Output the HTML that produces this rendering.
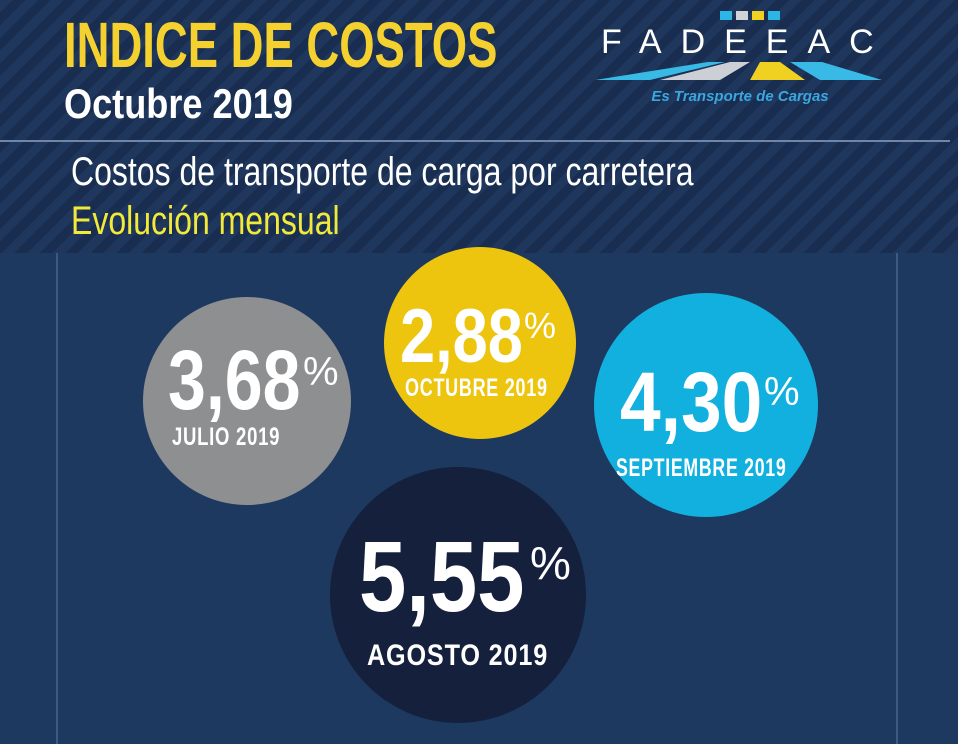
<!DOCTYPE html>
<html><head><meta charset="utf-8"><style>
*{margin:0;padding:0;box-sizing:border-box}
body{width:958px;height:744px;overflow:hidden;position:relative;background:#1c3358;font-family:"Liberation Sans Narrow","Liberation Sans",sans-serif}
.stripes{position:absolute;left:0;top:0;width:958px;height:253px;background:repeating-linear-gradient(135deg,#1f375c 0 9px,#182d4f 9px 18px)}
.panel{position:absolute;left:0;top:253px;width:958px;height:491px;background:#1d3960}
.vl{position:absolute;top:253px;width:2px;height:491px;background:#3b5a82}
.hl{position:absolute;left:0;top:140px;width:950px;height:2px;background:#6f86a8}
.t{position:absolute;white-space:nowrap}
.c{position:absolute;border-radius:50%}
.big{position:absolute;font-weight:bold;color:#fff;white-space:nowrap;transform-origin:left top}
.pc{font-weight:normal;font-family:"Liberation Sans",sans-serif}
.lab{position:absolute;font-weight:bold;color:#fff;white-space:nowrap;letter-spacing:1px;font-family:"Liberation Sans",sans-serif;transform-origin:left top}
</style></head><body>
<div class="stripes"></div>
<div class="panel"></div>
<div class="hl"></div>
<div class="vl" style="left:56px"></div>
<div class="vl" style="left:896px"></div>

<div class="t" style="left:64px;top:8px;font-size:64px;font-weight:bold;color:#f5d130;transform:scaleX(0.71);transform-origin:left top">INDICE DE COSTOS</div>
<div class="t" style="left:64px;top:80px;font-size:42px;font-weight:bold;color:#fff;transform:scaleX(0.86);transform-origin:left top">Octubre 2019</div>
<div class="t" style="left:71px;top:150px;font-size:40px;color:#fff;transform:scaleX(0.80);transform-origin:left top">Costos de transporte de carga por carretera</div>
<div class="t" style="left:71px;top:199px;font-size:40px;color:#f2ea3a;transform:scaleX(0.80);transform-origin:left top">Evolución mensual</div>

<!-- logo -->
<svg style="position:absolute;left:590px;top:4px" width="300" height="104">
<rect x="130" y="7" width="12" height="9" fill="#2db5e6"/><rect x="146" y="7" width="12" height="9" fill="#cfd3d8"/><rect x="162" y="7" width="12" height="9" fill="#f0d020"/><rect x="178" y="7" width="12" height="9" fill="#2db5e6"/>
<text x="11" y="49" font-family="Liberation Sans" font-size="34" fill="#fff" letter-spacing="19">FADEEAC</text>
<polygon points="5,76 118,58 135,58 60,76" fill="#39b9e6"/>
<polygon points="70,76 140,58 160,58 130,76" fill="#ccd0d6"/>
<polygon points="170,58 190,58 215,76 160,76" fill="#f0d020"/>
<polygon points="200,58 232,58 292,76 230,76" fill="#39b9e6"/>
<text x="150" y="97" text-anchor="middle" font-family="Liberation Sans Narrow,Liberation Sans" font-style="italic" font-weight="bold" font-size="15" fill="#3aa7e0">Es Transporte de Cargas</text>
</svg>

<div class="c" style="left:143px;top:297px;width:208px;height:208px;background:#8e8f91"></div>
<div class="c" style="left:384px;top:247px;width:192px;height:192px;background:#edc40e"></div>
<div class="c" style="left:594px;top:293px;width:224px;height:224px;background:#12b0df"></div>
<div class="c" style="left:330px;top:467px;width:256px;height:256px;background:#14203c"></div>

<div class="big" style="left:168px;top:332px;font-size:84px;transform:scaleX(0.81)">3,68</div>
<div class="t pc" style="left:303px;top:350px;font-size:40px;color:#fff">%</div>
<div class="lab" style="left:172px;top:423px;font-size:25px;transform:scaleX(0.74)">JULIO 2019</div>

<div class="big" style="left:400px;top:293px;font-size:76px;transform:scaleX(0.83)">2,88</div>
<div class="t pc" style="left:524px;top:305px;font-size:36px;color:#fff">%</div>
<div class="lab" style="left:405px;top:374px;font-size:25px;transform:scaleX(0.72)">OCTUBRE 2019</div>

<div class="big" style="left:620px;top:354px;font-size:84px;transform:scaleX(0.87)">4,30</div>
<div class="t pc" style="left:764px;top:370px;font-size:40px;color:#fff">%</div>
<div class="lab" style="left:616px;top:454px;font-size:25px;transform:scaleX(0.71)">SEPTIEMBRE 2019</div>

<div class="big" style="left:359px;top:520px;font-size:100px;transform:scaleX(0.85)">5,55</div>
<div class="t pc" style="left:530px;top:536px;font-size:46px;color:#fff">%</div>
<div class="lab" style="left:367px;top:639px;font-size:30px;transform:scaleX(0.84)">AGOSTO 2019</div>
</body></html>
